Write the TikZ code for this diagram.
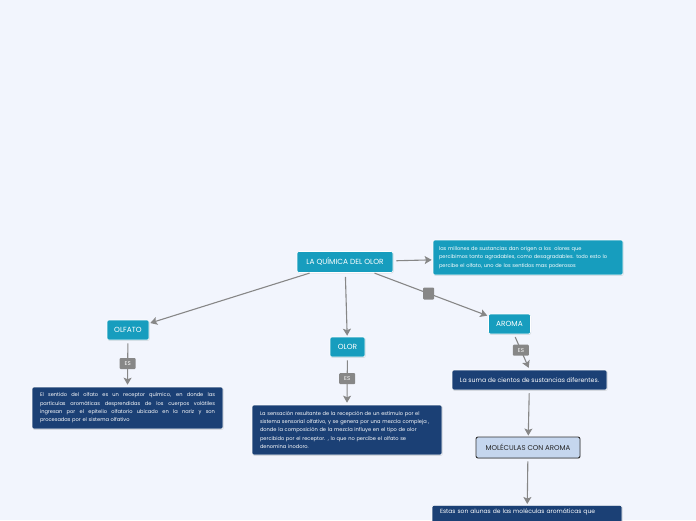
\documentclass[tikz,border=0pt]{standalone}
\usepackage{fontspec}
\setmainfont{Poppins}
\usetikzlibrary{arrows.meta,shadows}
\definecolor{bg}{RGB}{242,245,253}
\definecolor{teal}{RGB}{23,157,190}
\definecolor{navy}{RGB}{27,64,117}
\definecolor{lblue}{RGB}{197,214,238}
\definecolor{conn}{RGB}{135,135,135}
\newcommand{\jline}[1]{\makebox[\linewidth][s]{\spaceskip=0.2em plus 1fil\relax #1}}
\begin{document}
\begin{tikzpicture}[x=1pt,y=-1pt,
  shd/.style={drop shadow={opacity=0.25,shadow xshift=0.6pt,shadow yshift=-0.8pt}},
  tealbox/.style={shd,fill=teal,draw=white,line width=0.6pt,rounded corners=2pt,text=white,inner sep=0pt,align=center},
  navybox/.style={shd,fill=navy,draw=white,line width=0.6pt,rounded corners=2pt,text=white,inner sep=0pt},
  molbox/.style={shd,fill=lblue,draw=black!80,line width=0.9pt,rounded corners=2pt,text=black!85,inner sep=0pt,align=center},
  eslabel/.style={fill=conn,rounded corners=1pt,text=white,inner sep=0pt,minimum width=16pt,minimum height=11pt,font=\fontsize{5.5}{6}\selectfont},
  conn/.style={draw=conn,line width=1.1pt,-{Stealth[length=7pt,width=8pt,inset=1.5pt]}},
  bigt/.style={font=\fontsize{7.4}{8}\selectfont},
  smallt/.style={font=\fontsize{5.1}{8.3}\selectfont}
]
\useasboundingbox[fill=bg] (0,0) rectangle (696,520);

\node[tealbox,bigt,minimum width=96pt,minimum height=21pt] (quimica) at (345,262) {LA QUÍMICA DEL OLOR};
\node[tealbox,smallt,minimum width=190pt,minimum height=35pt,align=left,text width=178pt] (info) at (528,257.5)
 {las millones de sustancias dan origen a los\ \ olores que\\percibimos tanto agradables, como desagradables. todo esto lo\\percibe el olfato, uno de los sentidos mas poderosos};

\node[tealbox,bigt,minimum width=42pt,minimum height=20pt] (olfato) at (128,330) {OLFATO};
\node[tealbox,bigt,minimum width=35pt,minimum height=20pt] (olor) at (347.5,347) {OLOR};
\node[tealbox,bigt,minimum width=42pt,minimum height=20pt] (aroma) at (509.5,324) {AROMA};

\node[navybox,smallt,minimum width=191pt,minimum height=42pt,align=left,text width=175pt] (olfdesc) at (127.5,408)
 {\jline{El sentido del olfato es un receptor químico, en donde las}\\
  \jline{partículas aromáticas desprendidas de los cuerpos volátiles}\\
  \jline{ingresan por el epitelio olfatorio ubicado en la nariz y son}\\
  procesadas por el sistema olfativo};

\node[navybox,smallt,minimum width=190pt,minimum height=50pt,align=left,text width=174pt] (olordesc) at (347,430)
 {La sensación resultante de la recepción de un estímulo por el\\
  sistema sensorial olfativo, y se genera por una mezcla compleja ,\\
  donde la composición de la mezcla influye en el tipo de olor\\
  percibido por el receptor. , lo que no percibe el olfato se\\
  denomina inodoro.};

\node[navybox,font=\fontsize{6.2}{7}\selectfont,minimum width=155pt,minimum height=20pt,align=center] (suma) at (529.5,380) {La suma de cientos de sustancias diferentes.};

\node[molbox,font=\fontsize{7}{7}\selectfont,minimum width=104pt,minimum height=21pt] (molec) at (528,447.5) {MOLÉCULAS CON AROMA};

\node[navybox,font=\fontsize{6}{7}\selectfont,minimum width=190pt,minimum height=40pt,anchor=north,align=left,text width=174pt,text depth=28pt] (last) at (527,505) {Estas son alunas de las moléculas aromáticas que};

% connectors
\draw[conn,shorten <=3pt,shorten >=1pt] (quimica) -- (info);
\draw[conn,shorten <=1pt,shorten >=1pt] (quimica) -- (olfato);
\draw[conn,shorten <=4pt,shorten >=1pt] (quimica) -- (olor);
\draw[conn,shorten <=1pt,shorten >=1pt] (quimica) -- node[fill=conn,rounded corners=1pt,minimum width=11pt,minimum height=12pt,inner sep=0pt,pos=0.48] (sq) {} (aroma);

\draw[conn,shorten <=3pt,shorten >=2pt] (olfato) -- node[eslabel] (es1) {ES} (olfdesc.north);
\draw[conn,shorten <=3pt,shorten >=2pt] (olor) -- node[eslabel,pos=0.45] (es2) {ES} (olordesc.north);
\draw[conn,shorten <=3pt,shorten >=2pt] (aroma) -- node[eslabel,pos=0.45] (es3) {ES} (suma.north);
\draw[conn,shorten <=3pt,shorten >=1pt] (suma) -- (molec);
\draw[conn,shorten <=3pt,shorten >=1pt] (molec) -- (last);
\end{tikzpicture}
\end{document}
